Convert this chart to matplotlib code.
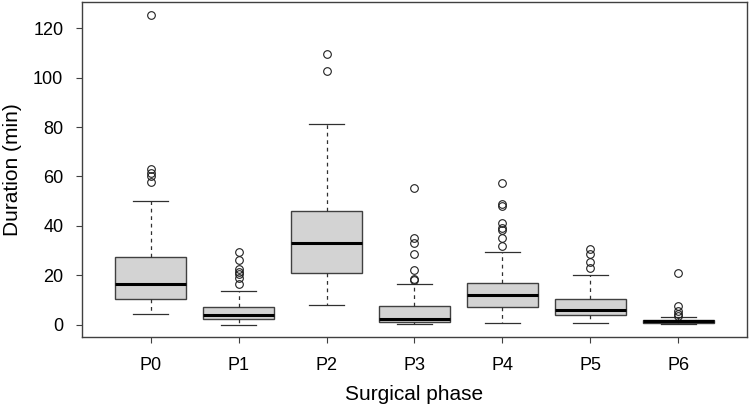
#!/usr/bin/env python3
# -*- coding: utf-8 -*-

import matplotlib
matplotlib.use("Agg")
import matplotlib.pyplot as plt

# values (minutes)
phases = ["P0", "P1", "P2", "P3", "P4", "P5", "P6"]
q1 = [10.3, 2.1, 20.9, 1.2, 7.0, 3.8, 0.8]
medians = [16.3, 3.8, 33.0, 2.4, 12.0, 5.9, 1.3]
q3 = [27.4, 7.0, 46.1, 7.5, 17.0, 10.4, 1.9]
whisk_lo = [4.2, 0.0, 7.8, 0.3, 0.7, 0.7, 0.1]
whisk_hi = [50.0, 13.5, 81.3, 16.6, 29.4, 20.0, 3.1]
outliers = [
    [125.5, 63.1, 61.5, 60.3, 57.8],
    [29.4, 26.3, 22.7, 21.3, 20.4, 19.0, 16.6],
    [109.4, 102.8],
    [55.4, 35.1, 33.1, 28.5, 22.3, 18.6, 18.0],
    [57.5, 49.0, 47.9, 41.3, 39.0, 38.2, 34.9, 32.0],
    [30.8, 28.5, 25.4, 23.0],
    [20.9, 7.7, 5.4, 4.5, 3.5],
]

plt.rcParams["font.family"] = ["Liberation Sans", "DejaVu Sans"]

stats = []
for i, name in enumerate(phases):
    stats.append({
        "label": name,
        "q1": q1[i], "med": medians[i], "q3": q3[i],
        "whislo": whisk_lo[i], "whishi": whisk_hi[i],
        "fliers": outliers[i],
    })

fig = plt.figure(figsize=(7.49, 4.08), dpi=100)
ax = fig.add_axes([0.1095, 0.174, 0.8878, 0.821])

ax.bxp(
    stats,
    positions=range(1, len(phases) + 1),
    widths=0.8,
    patch_artist=True,
    boxprops=dict(facecolor="#d3d3d3", edgecolor="#404040", linewidth=1.0),
    medianprops=dict(color="black", linewidth=2.2),
    whiskerprops=dict(color="#303030", linestyle=(0, (3, 3)), linewidth=0.9),
    capprops=dict(color="#303030", linewidth=0.9),
    capwidths=0.4,
    flierprops=dict(marker="o", markerfacecolor="none", markeredgecolor="#202020",
                    markersize=5.5, markeredgewidth=0.8),
)

ax.set_xlim(0.22, 7.78)
ax.set_ylim(-5.0, 130.6)
ax.set_yticks(range(0, 121, 20))
ax.set_xticks(range(1, len(phases) + 1))
ax.set_xticklabels(phases)
ax.tick_params(axis="both", labelsize=13, length=4.5, width=0.8, color="#404040")
ax.tick_params(axis="x", pad=10)
ax.tick_params(axis="y", pad=9)
for sp in ax.spines.values():
    sp.set_color("#404040")
    sp.set_linewidth(1.0)

ax.set_ylabel("Duration (min)", fontsize=15, labelpad=8)
ax.set_xlabel("Surgical phase", fontsize=15, labelpad=8)

fig.savefig("out.png", dpi=100)
